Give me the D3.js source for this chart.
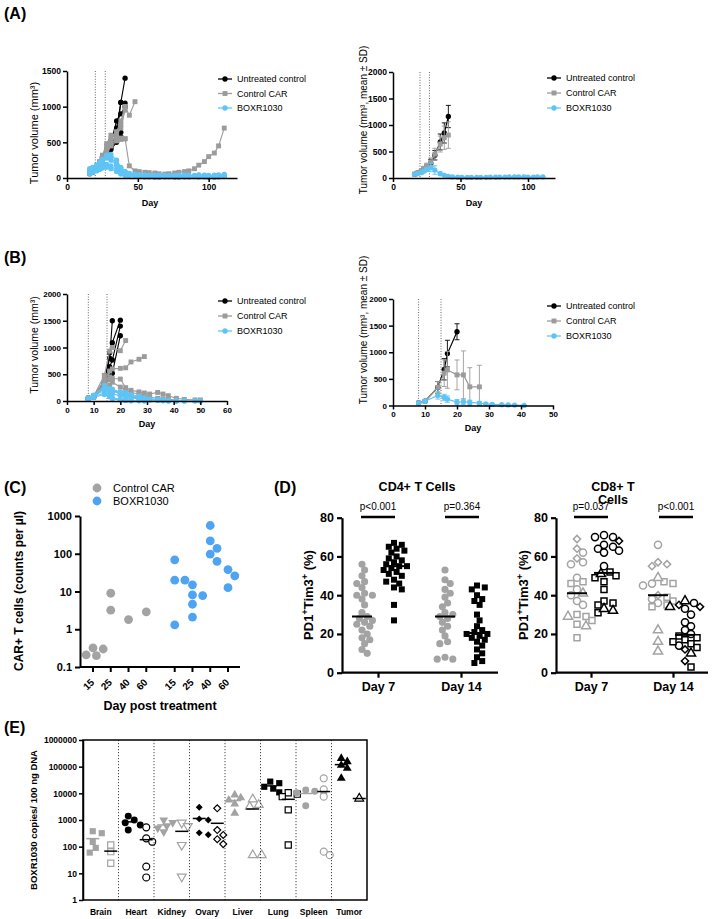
<!DOCTYPE html>
<html><head><meta charset="utf-8"><title>BOXR1030 figure</title>
<script src="https://cdn.jsdelivr.net/npm/d3@7/dist/d3.min.js"></script>
<style>html,body{margin:0;padding:0;background:#fff}svg text{font-family:"Liberation Sans",Arial,Helvetica,sans-serif}</style>
</head><body>
<svg id="chart" width="714" height="919" xmlns="http://www.w3.org/2000/svg"></svg>
<script>
// ================= DATA =================
// Panel A – individual mice (left), aligned to daysA
const daysA = [16,18,21,23,25,28,31,35,38,41,44,48,51,55,58,62,65,69,72,76,79,83,86,90,93,97,100,104,107,111];
const aUntreated = [
  [80,100,150,220,300,400,520,700,1060,1400],
  [70,90,130,200,260,350,480,600,1060,1050],
  [60,80,120,180,240,300,420,560,640],
  [90,110,160,210,280,380,500,800,900,1000],
  [70,90,110,170,220,290,400,500,580]
];
const aControlCAR = [
  [80,100,150,220,300,450,550,650,800,1000,880,1070],
  [70,90,130,200,260,400,500,600,700,950],
  [60,80,120,180,240,350,480,550,560,550,170,100,90,80,75,70,60,55,60,70,80,90,100,130,180,230,300,350,450,700],
  [90,110,170,230,320,480,600,620,750,1000],
  [70,90,120,170,220,330,450,520,540,550]
];
const aBOXR = [
  [90,110,140,180,230,300,330,250,150,90,60,50,45,40,35,30,30,25,25,30,35,30,25,30,40,35,30,30,35,40],
  [110,130,160,200,250,280,250,170,110,70,50,40,30,30,25,20,20,20,25,25,20,20,25,30,30,25,20,20,25,30],
  [70,90,110,140,170,190,170,110,70,45,35,30,25,20,20,15,15,20,20,15,15,20,20,25,20,20,15,15,20,25],
  [130,150,180,220,260,320,280,200,130,90,65,50,45,40,40,35,40,35,30,35,40,45,40,35,45,40,35,40,45,50],
  [60,80,100,120,140,150,130,90,55,35,30,25,20,15,15,10,10,15,15,10,10,15,15,20,15,15,10,10,15,20]
];
// Panel A – group mean ± SD (right): [day, mean, SD]
const aUntreatedMean = [[16,70,15],[18,90,20],[21,120,30],[23,170,40],[25,200,50],[28,280,70],[31,430,90],[35,680,150],[38,850,190],[41,1160,210]];
const aControlMean = [[16,75,15],[18,95,20],[21,135,30],[23,180,40],[25,230,50],[28,300,80],[31,450,110],[35,640,150],[38,760,220],[41,810,250]];
const aBOXRMean = [[16,70,20],[18,80,20],[21,100,25],[23,130,30],[25,160,40],[28,200,80],[31,150,80],[35,80,30],[38,50,20],[41,30,15],[44,20,10],[48,15,8],[51,12,6],[55,10,5],[58,10,5],[62,10,5],[65,12,5],[69,12,5],[72,15,6],[76,15,6],[79,18,8],[83,18,8],[86,20,8],[90,20,8],[93,20,8],[97,20,8],[100,18,8],[104,18,8],[107,20,8],[111,20,8]];
const aDoseDays = [20,27];
const aYTicksLeft = [0,500,1000,1500];
const aYTicksRight = [0,500,1000,1500,2000];
const aXTicks = [0,50,100];

// Panel B – individual mice (left), aligned to daysB
const daysB = [8,10,14,16,17,20,22,24,27,29,31,34,36,38,41,44,48,50];
const bUntreated = [
  [50,90,350,800,1500],
  [50,80,320,900,1090,1510],
  [60,100,330,640,766,1400],
  [40,70,300,450,520,1220]
];
const bControlCAR = [
  [50,90,480,930,1000,940,1130],
  [50,90,400,560,600,610,620,730,780,830],
  [50,80,350,450,420,410,250,200,170,150,130,160,130,100,50,30,20,20],
  [50,80,300,400,350,260,200,160,130,100,70,50,40,30,20],
  [50,70,250,300,200,150,100,80,50]
];
const bBOXR = [
  [50,100,290,230,220,170,160,120,90,60,40,30,20,10,5,5,0,0],
  [50,90,200,160,130,100,80,60,40,30,20,10,5,0,0],
  [40,80,150,100,60,30,20,10,5,0],
  [60,110,250,200,180,140,120,100,70,50,30,20,10,5,0,0],
  [50,70,120,80,40,20,10,5]
];
// Panel B – group mean ± SD (right)
const bUntreatedMean = [[8,50,10],[10,80,15],[14,340,110],[16,680,200],[17,975,250],[20,1385,150]];
const bControlMean = [[8,50,10],[10,80,15],[14,340,110],[16,607,250],[17,669,345],[20,575,280],[22,575,450],[24,350,360],[27,350,405]];
const bBOXRMean = [[8,50,10],[10,80,15],[14,190,70],[16,150,60],[17,120,60],[20,63,50],[22,70,50],[24,60,40],[27,45,30],[29,30,15],[31,20,10],[34,15,8],[36,10,5],[38,8,5],[41,2,2]];
const bDoseDays = [8,15];
const bYTicks = [0,500,1000,1500,2000];
const bXTicksLeft = [0,10,20,30,40,50,60];
const bXTicksRight = [0,10,20,30,40,50];
const seriesLabels = ["Untreated control","Control CAR","BOXR1030"];

// Panel C – CAR+ T cells (counts per µl): [day index, value]
const cDayLabels = ["15","25","40","60"];
const cControlCAR = [[0,0.32],[0,0.3],[0,0.21],[0,0.2],[1,9.0],[1,3.2],[2,1.8],[3,2.9]];
const cBOXR = [[0,69],[0,20],[0,20],[0,1.3],[1,15],[1,7.8],[1,8.1],[1,4.6],[1,2.1],[2,560],[2,220],[2,138],[2,98],[2,63],[3,38],[3,26],[3,12.6]];
const cYTicks = [0.1,1,10,100,1000];
const cLegend = ["Control CAR","BOXR1030"];

// Panel D – PD1+Tim3+ (%)
const dDays = ["Day 7","Day 14"];
const cd4Control7 = [56,53,50,47,46,44,41,40,40,38,35,31,29,28,27,26,25,24,22,20,18,17,15,12,10];
const cd4BOXR7 = [67,66,65,64,63,62,60,59,58,57,56,55,55,54,53,52,51,50,48,47,46,44,43,35,27];
const cd4Control14 = [53,48,46,43,41,39,36,34,31,30,29,28,26,24,22,19,16,15,8,7,7];
const cd4BOXR14 = [45,44,43,40,38,37,35,30,27,24,22,21,20,20,19,18,17,16,14,12,10,8,6,5];
const cd8Control7 = [[69,"diamond"],[64,"diamond"],[59,"diamond"],[62,"circle"],[57,"circle"],[56,"circle"],[49,"circle"],[43,"circle"],[40,"circle"],[37,"circle"],[35,"circle"],[47,"square"],[46,"square"],[30,"square"],[29,"square"],[27,"square"],[25,"square"],[18,"square"],[41,"triangle"],[29,"triangle"],[24,"triangle"]];
const cd8BOXR7 = [[71,"circle"],[70,"circle"],[70,"circle"],[66,"circle"],[65,"circle"],[64,"circle"],[63,"circle"],[62,"circle"],[55,"circle"],[68,"diamond"],[52,"square"],[50,"square"],[49,"square"],[47,"square"],[43,"square"],[37,"square"],[36,"square"],[35,"square"],[31,"square"],[51,"triangle"],[33,"triangle"],[32,"triangle"]];
const cd8Control14 = [[66,"circle"],[46,"circle"],[45,"circle"],[38,"circle"],[36,"circle"],[57,"diamond"],[56,"diamond"],[55,"diamond"],[40,"diamond"],[47,"square"],[46,"square"],[39,"square"],[37,"square"],[35,"square"],[34,"square"],[49,"triangle"],[22,"triangle"],[16,"triangle"],[11,"triangle"]];
const cd8BOXR14 = [[35,"diamond"],[34,"diamond"],[12,"diamond"],[6,"diamond"],[36,"circle"],[33,"circle"],[30,"circle"],[26,"circle"],[24,"circle"],[22,"circle"],[20,"circle"],[14,"circle"],[37,"triangle"],[34,"triangle"],[10,"triangle"],[19,"square"],[18,"square"],[17,"square"],[16,"square"],[15,"square"],[13,"square"],[3,"square"]];
const pValuesCD4 = ["p<0.001","p=0.364"];
const pValuesCD8 = ["p=0.037","p<0.001"];
const dYTicks = [0,20,40,60,80];

// Panel E – BOXR1030 copies / 100 ng DNA
const eTissues = ["Brain","Heart","Kidney","Ovary","Liver","Lung","Spleen","Tumor"];
const eShapes = ["square","circle","triDown","diamond","triangle","square","circle","triangle"];
const eTone = ["gray","black","gray","black","gray","black","gray","black"];
const eFilled = [[380,320,150,90,60],[1400,1000,790,650,420],[1000,800,600,500,360],[3000,1100,1000,330,280],[8700,6800,5600,4000,1800],[27500,24000,17600,15000,10900],[13300,12000,10600,10000,3400],[205000,155000,113000,87000,36700]];
const eOpen = [[115,65,24],[530,205,153,18,7],[790,590,115,7.5],[2750,420,275,190,125],[6000,3700,3150,48,48],[10500,9300,7500,2400,115],[36700,14000,7500,65,48],[6400]];
const eYTicks = [1,10,100,1000,10000,100000,1000000];

// ================= DRAWING =================
const svg = d3.select("#chart");
const F = '"Liberation Sans", Arial, sans-serif';
const C_BLACK = "#000", C_GRAY = "#9b9b9b", C_BLUE = "#5ec4f6";

function addText(parent, x, y, s, o = {}) {
  const t = parent.append("text").attr("x", x).attr("y", y)
    .attr("font-size", o.size || 10).attr("font-weight", o.weight || "normal")
    .attr("text-anchor", o.anchor || "start").attr("fill", o.fill || "#000").text(s);
  if (o.rotate) t.attr("transform", `rotate(${o.rotate},${x},${y})`);
  return t;
}
function styleAxis(g, sw, fs, fw = "bold") {
  g.select(".domain").attr("stroke", "#000").attr("stroke-width", sw);
  g.selectAll(".tick line").attr("stroke", "#000").attr("stroke-width", sw);
  g.selectAll(".tick text").attr("font-size", fs).attr("font-weight", fw).attr("fill", "#000").attr("font-family", F);
}
const symType = {circle:d3.symbolCircle, square:d3.symbolSquare, triangle:d3.symbolTriangle, diamond:d3.symbolSquare, triDown:d3.symbolTriangle};
const symRot = {diamond:45, triDown:180};
function drawSym(parent, shape, size, cx, cy, fill, stroke, sw) {
  parent.append("path").attr("d", d3.symbol().type(symType[shape]).size(size)())
    .attr("transform", `translate(${cx},${cy}) rotate(${symRot[shape] || 0})`)
    .attr("fill", fill).attr("stroke", stroke || "none").attr("stroke-width", sw || 0);
}
function dodge(values, yScale, r, step) {
  const items = values.map((v, i) => ({ i, y: yScale(v) })).sort((a, b) => a.y - b.y);
  const placed = [], off = new Array(values.length).fill(0);
  items.forEach(p => {
    for (let k = 0; k < 60; k++) {
      const dx = k === 0 ? 0 : (k % 2 ? 1 : -1) * Math.ceil(k / 2) * step;
      if (placed.every(q => (q.dx - dx) ** 2 + (q.y - p.y) ** 2 >= (2 * r) ** 2)) {
        placed.push({ dx, y: p.y }); off[p.i] = dx; break;
      }
    }
  });
  return off;
}

// panel letters
[["(A)",4,19],["(B)",4,263],["(C)",4,493],["(D)",274,493],["(E)",4,733]].forEach(d =>
  addText(svg, d[1], d[2], d[0], { size: 16, weight: "bold" }));

const seriesStyle = [
  { color: C_BLACK, shape: "circle", size: 22 },
  { color: C_GRAY, shape: "square", size: 24 },
  { color: C_BLUE, shape: "circle", size: 22 }
];

function tumorPanel(o) {
  const g = svg.append("g");
  const x = d3.scaleLinear().domain(o.xDomain).range(o.xRange);
  const y = d3.scaleLinear().domain([0, o.yMax]).range(o.yRange);
  o.doses.forEach(d => g.append("line").attr("x1", x(d)).attr("x2", x(d))
    .attr("y1", y(o.yMax)).attr("y2", y(0)).attr("stroke", "#555")
    .attr("stroke-width", 0.9).attr("stroke-dasharray", "1,1.6"));
  const line = d3.line().x(d => x(d[0])).y(d => y(d[1]));
  if (o.individual) {
    o.individual.forEach((sets, si) => {
      const st = seriesStyle[si];
      sets.forEach(vals => {
        const pts = vals.map((v, i) => [o.days[i], v]);
        g.append("path").attr("d", line(pts)).attr("fill", "none").attr("stroke", st.color).attr("stroke-width", 1.1);
        pts.forEach(p => drawSym(g, st.shape, st.size, x(p[0]), y(p[1]), st.color));
      });
    });
  } else {
    o.means.forEach((data, si) => {
      const st = seriesStyle[si];
      data.forEach(d => {
        const lo = Math.max(0, d[1] - d[2]), hi = d[1] + d[2];
        g.append("line").attr("x1", x(d[0])).attr("x2", x(d[0])).attr("y1", y(lo)).attr("y2", y(hi)).attr("stroke", st.color).attr("stroke-width", 0.9);
        [lo, hi].forEach(v => g.append("line").attr("x1", x(d[0]) - 2.5).attr("x2", x(d[0]) + 2.5).attr("y1", y(v)).attr("y2", y(v)).attr("stroke", st.color).attr("stroke-width", 0.9));
      });
      g.append("path").attr("d", line(data)).attr("fill", "none").attr("stroke", st.color).attr("stroke-width", 1.2);
      data.forEach(d => drawSym(g, st.shape, st.size, x(d[0]), y(d[1]), st.color));
    });
  }
  const xa = g.append("g").attr("transform", `translate(0,${y(0)})`)
    .call(d3.axisBottom(x).tickValues(o.xTicks).tickFormat(d3.format("d")).tickSize(4).tickSizeOuter(0).tickPadding(2));
  styleAxis(xa, 1.5, o.tickFont);
  const ya = g.append("g").attr("transform", `translate(${o.xRange[0]},0)`)
    .call(d3.axisLeft(y).tickValues(o.yTicks).tickFormat(d3.format("d")).tickSize(4).tickSizeOuter(0).tickPadding(2));
  styleAxis(ya, 1.5, o.tickFont);
  addText(g, o.dayX, o.dayY, "Day", { size: 9, weight: "bold", anchor: "middle" });
  g.append("text").attr("transform", `translate(${o.ylX},${o.ylY}) rotate(-90)`)
    .attr("text-anchor", "middle").attr("font-size", o.ylSize).attr("fill", "#000").text(o.ylabel);
  // legend
  seriesLabels.forEach((lab, i) => {
    const yy = o.legY + i * o.legDy, st = seriesStyle[i];
    g.append("line").attr("x1", o.legX).attr("x2", o.legX + 14).attr("y1", yy).attr("y2", yy).attr("stroke", st.color).attr("stroke-width", 1.3);
    drawSym(g, st.shape, st.size, o.legX + 7, yy, st.color);
    addText(g, o.legX + 19, yy + 3.2, lab, { size: 9 });
  });
}

// A left
tumorPanel({ xDomain: [0, 120], xRange: [67, 237], yMax: 1500, yRange: [178, 71], doses: aDoseDays,
  days: daysA, individual: [aUntreated, aControlCAR, aBOXR], xTicks: aXTicks, yTicks: aYTicksLeft, tickFont: 8.5,
  dayX: 150, dayY: 206, ylX: 38, ylY: 133, ylSize: 11, ylabel: "Tumor volume (mm\u00B3)",
  legX: 218, legY: 79, legDy: 14.5 });
// A right
tumorPanel({ xDomain: [0, 120], xRange: [393, 555], yMax: 2000, yRange: [178, 72], doses: aDoseDays,
  means: [aUntreatedMean, aControlMean, aBOXRMean], xTicks: aXTicks, yTicks: aYTicksRight, tickFont: 8.5,
  dayX: 474, dayY: 206, ylX: 367, ylY: 120, ylSize: 10, ylabel: "Tumor volume (mm\u00B3, mean \u00B1 SD)",
  legX: 547, legY: 78, legDy: 15 });
// B left
tumorPanel({ xDomain: [0, 60], xRange: [67, 227], yMax: 2000, yRange: [401, 294], doses: bDoseDays,
  days: daysB, individual: [bUntreated, bControlCAR, bBOXR], xTicks: bXTicksLeft, yTicks: bYTicks, tickFont: 8,
  dayX: 147, dayY: 427, ylX: 38, ylY: 345, ylSize: 10.5, ylabel: "Tumor volume (mm\u00B3)",
  legX: 218, legY: 301, legDy: 15 });
// B right
tumorPanel({ xDomain: [0, 50], xRange: [393, 553], yMax: 2000, yRange: [405.5, 299], doses: bDoseDays,
  means: [bUntreatedMean, bControlMean, bBOXRMean], xTicks: bXTicksRight, yTicks: bYTicks, tickFont: 8,
  dayX: 473, dayY: 431, ylX: 367, ylY: 330, ylSize: 10, ylabel: "Tumor volume (mm\u00B3, mean \u00B1 SD)",
  legX: 547, legY: 306, legDy: 15 });

// ---------- Panel C ----------
(function () {
  const g = svg.append("g");
  const C_CGRAY = "#a3a3a3", C_CBLUE = "#4fa3f3";
  const x = d3.scaleLinear().domain([0, 7.6]).range([93, 228]);
  const y = d3.scaleLog().domain([0.1, 1000]).range([667, 516]);
  const groups = [{ data: cControlCAR, off: 0, color: C_CGRAY }, { data: cBOXR, off: 4.6, color: C_CBLUE }];
  groups.forEach(gr => {
    cDayLabels.forEach((lab, di) => {
      const vals = gr.data.filter(d => d[0] === di).map(d => d[1]);
      const offs = dodge(vals, y, 4.2, 3.4);
      vals.forEach((v, k) => g.append("circle").attr("cx", x(gr.off + di) + offs[k]).attr("cy", y(v)).attr("r", 4.4).attr("fill", gr.color));
      const px = x(gr.off + di);
      g.append("line").attr("x1", px).attr("x2", px).attr("y1", 667).attr("y2", 672).attr("stroke", "#000").attr("stroke-width", 2);
      g.append("text").attr("transform", `translate(${px + 2},${683}) rotate(-45)`).attr("text-anchor", "end")
        .attr("font-size", 10).attr("font-weight", "bold").text(lab);
    });
  });
  g.append("line").attr("x1", 80).attr("x2", 240).attr("y1", 667).attr("y2", 667).attr("stroke", "#000").attr("stroke-width", 2);
  const ya = g.append("g").attr("transform", "translate(80,0)")
    .call(d3.axisLeft(y).tickValues(cYTicks).tickFormat(d => d < 1 ? "0.1" : d3.format("d")(d)).tickSize(5).tickSizeOuter(0).tickPadding(3));
  styleAxis(ya, 2, 11);
  g.append("text").attr("transform", "translate(23,591) rotate(-90)").attr("text-anchor", "middle")
    .attr("font-size", 12).attr("font-weight", "bold").text("CAR+ T cells (counts per \u00B5l)");
  addText(g, 160, 710, "Day post treatment", { size: 12.5, weight: "bold", anchor: "middle" });
  cLegend.forEach((lab, i) => {
    g.append("circle").attr("cx", 97).attr("cy", 488 + i * 13).attr("r", 4.4).attr("fill", i ? C_CBLUE : C_CGRAY);
    addText(g, 113, 492 + i * 13, lab, { size: 11 });
  });
})();

// ---------- Panel D ----------
function dotPanel(o) {
  const g = svg.append("g");
  const x = d3.scalePoint().domain(dDays).range(o.ticks);
  const y = d3.scaleLinear().domain([0, 80]).range([672.7, 517.7]);
  g.append("line").attr("x1", o.axisX).attr("x2", o.axisEnd).attr("y1", y(0)).attr("y2", y(0)).attr("stroke", "#000").attr("stroke-width", 2.2);
  const xa = g.append("g").attr("transform", `translate(0,${y(0)})`).call(d3.axisBottom(x).tickSize(5).tickSizeOuter(0).tickPadding(4));
  xa.select(".domain").remove();
  styleAxis(xa, 2.2, 12.5);
  const ya = g.append("g").attr("transform", `translate(${o.axisX},0)`)
    .call(d3.axisLeft(y).tickValues(dYTicks).tickSize(5).tickSizeOuter(0).tickPadding(3));
  styleAxis(ya, 2.2, 12.5);
  o.groups.forEach(gr => {
    const vals = gr.data.map(d => Array.isArray(d) ? d[0] : d);
    const shapes = gr.data.map(d => Array.isArray(d) ? d[1] : gr.shape);
    const cx = x(gr.day) + gr.dx;
    const offs = dodge(vals, y, gr.open ? 3.4 : 3.0, gr.open ? 3.0 : 2.6);
    vals.forEach((v, k) => {
      const sh = shapes[k];
      const size = sh === "diamond" ? 26 : sh === "triangle" ? 36 : sh === "circle" ? 40 : 36;
      if (gr.open) drawSym(g, sh, size, cx + offs[k], y(v), "#fff", gr.color, 1.5);
      else drawSym(g, sh, size, cx + offs[k], y(v), gr.color);
    });
    const med = d3.median(vals);
    g.append("line").attr("x1", cx - 10).attr("x2", cx + 10).attr("y1", y(med)).attr("y2", y(med)).attr("stroke", "#000").attr("stroke-width", 2);
  });
  o.pvals.forEach((p, i) => {
    const cx = x(dDays[i]);
    addText(g, cx + o.pShift[i], 510, p, { size: 10, anchor: "middle" });
    g.append("line").attr("x1", cx + o.pShift[i] - 17).attr("x2", cx + o.pShift[i] + 17).attr("y1", 517).attr("y2", 517).attr("stroke", "#000").attr("stroke-width", 2.5);
  });
  o.title.forEach((t, i) => addText(g, o.titleX, 491 + i * 13, t, { size: 12.5, weight: "bold", anchor: "middle" }));
  const yl = g.append("text").attr("transform", `translate(${o.ylX},595) rotate(-90)`).attr("text-anchor", "middle")
    .attr("font-size", 13).attr("font-weight", "bold");
  yl.append("tspan").text("PD1");
  yl.append("tspan").attr("dy", -5).attr("font-size", 9).text("+");
  yl.append("tspan").attr("dy", 5).text("Tim3");
  yl.append("tspan").attr("dy", -5).attr("font-size", 9).text("+");
  yl.append("tspan").attr("dy", 5).text(" (%)");
}
const D_GRAY = "#a3a3a3";
dotPanel({ ticks: [378, 461], axisX: 342, axisEnd: 498, ylX: 313, titleX: 417, title: ["CD4+ T Cells"],
  pvals: pValuesCD4, pShift: [0, 1],
  groups: [
    { day: "Day 7", dx: -16, data: cd4Control7, color: D_GRAY, shape: "circle" },
    { day: "Day 7", dx: 16, data: cd4BOXR7, color: "#000", shape: "square" },
    { day: "Day 14", dx: -16, data: cd4Control14, color: D_GRAY, shape: "circle" },
    { day: "Day 14", dx: 16, data: cd4BOXR14, color: "#000", shape: "square" }
  ] });
dotPanel({ ticks: [591, 673], axisX: 556, axisEnd: 708, ylX: 528, titleX: 613, title: ["CD8+ T", "Cells"],
  pvals: pValuesCD8, pShift: [0, 3],
  groups: [
    { day: "Day 7", dx: -14, data: cd8Control7, color: D_GRAY, open: true },
    { day: "Day 7", dx: 13, data: cd8BOXR7, color: "#000", open: true },
    { day: "Day 14", dx: -15, data: cd8Control14, color: D_GRAY, open: true },
    { day: "Day 14", dx: 12, data: cd8BOXR14, color: "#000", open: true }
  ] });

// ---------- Panel E ----------
(function () {
  const g = svg.append("g");
  const x = d3.scaleBand().domain(eTissues).range([83, 367]);
  const y = d3.scaleLog().domain([1, 1e6]).range([900, 740]);
  const E_GRAY = "#a3a3a3";
  eTissues.forEach((t, i) => {
    if (i > 0) g.append("line").attr("x1", x(t)).attr("x2", x(t)).attr("y1", 740).attr("y2", 900)
      .attr("stroke", "#333").attr("stroke-width", 0.9).attr("stroke-dasharray", "1.2,1.8");
    const col = eTone[i] === "gray" ? E_GRAY : "#000";
    const c = x(t) + x.bandwidth() / 2;
    const sh = eShapes[i];
    const size = sh === "diamond" ? 24 : sh === "circle" ? 38 : sh === "square" ? 38 : 34;
    [[eFilled[i], -8, false], [eOpen[i], 10, true]].forEach(([vals, dx, open]) => {
      const offs = dodge(vals, y, 3.3, 3);
      vals.forEach((v, k) => {
        if (open) drawSym(g, sh, size, c + dx + offs[k], y(v), "#fff", col, 1.2);
        else drawSym(g, sh, size, c + dx + offs[k], y(v), col);
      });
      const m = d3.mean(vals);
      g.append("line").attr("x1", c + dx - 6.5).attr("x2", c + dx + 6.5).attr("y1", y(m)).attr("y2", y(m))
        .attr("stroke", open ? "#000" : col).attr("stroke-width", 1.5);
    });
    addText(g, c, 915, t, { size: 8.5, weight: "bold", anchor: "middle" });
  });
  g.append("rect").attr("x", 83).attr("y", 740).attr("width", 284).attr("height", 160).attr("fill", "none").attr("stroke", "#000").attr("stroke-width", 1.5);
  const ya = g.append("g").attr("transform", "translate(83,0)")
    .call(d3.axisLeft(y).tickValues(eYTicks).tickFormat(d3.format("d")).tickSize(4).tickSizeOuter(0).tickPadding(2));
  styleAxis(ya, 1.5, 8.5);
  g.append("text").attr("transform", "translate(37,820) rotate(-90)").attr("text-anchor", "middle")
    .attr("font-size", 9.5).attr("font-weight", "bold").text("BOXR1030 copies/ 100 ng DNA");
})();
</script>
</body></html>
